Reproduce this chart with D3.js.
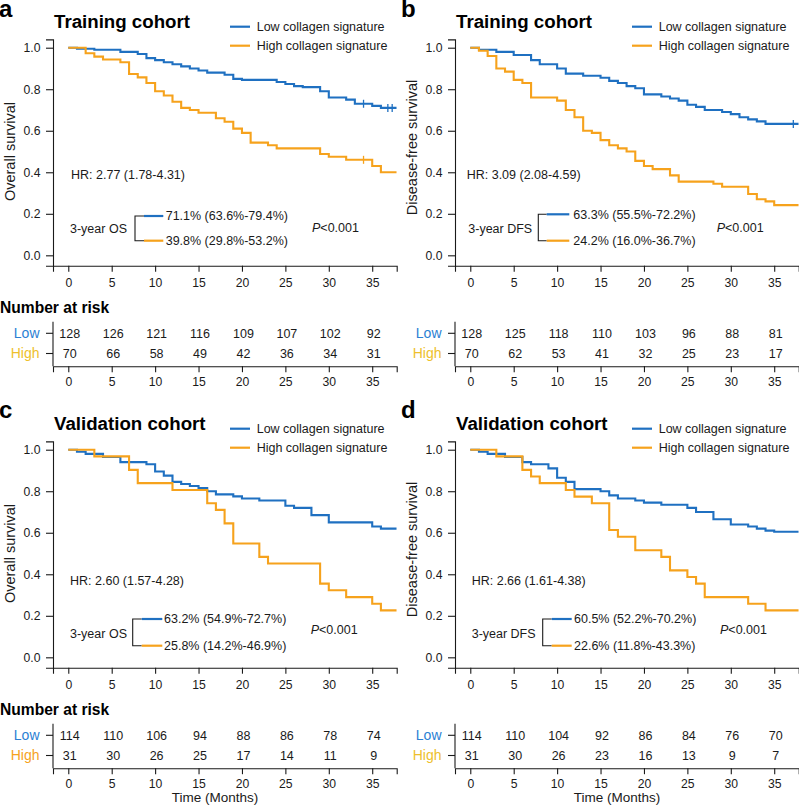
<!DOCTYPE html>
<html><head><meta charset="utf-8">
<script src="https://cdn.jsdelivr.net/npm/d3@7"></script>
<style>body{margin:0;background:#fff}svg{display:block}</style>
</head><body>
<svg id="chart" width="799" height="806"></svg>
<script>
// ---------- DATA ----------
const months = [0,5,10,15,20,25,30,35];
const yTicks = [0,0.2,0.4,0.6,0.8,1.0];
const groups = ["Low","High"];
const legendLabels = ["Low collagen signature","High collagen signature"];

// Panel a: Training cohort, overall survival
const aLowT  = [0,1,3,6,8,9,10,11,12,13,14,15,16,18,19,20,24,25,26,27,29,30,32,33,35,36,37.8];
const aLowS  = [1,0.995,0.99,0.98,0.97,0.95,0.94,0.93,0.92,0.91,0.90,0.89,0.88,0.87,0.85,0.845,0.835,0.825,0.815,0.81,0.79,0.76,0.75,0.73,0.72,0.71,0.71];
const aHighT = [0,2,3,4,6,7,8,9,10,11,12,13,14,15,17,18,19,20,21,23,24,29,30,32,35,36,37.8];
const aHighS = [1,0.973,0.957,0.943,0.93,0.873,0.857,0.83,0.79,0.77,0.74,0.71,0.70,0.687,0.66,0.643,0.61,0.59,0.543,0.53,0.515,0.488,0.475,0.46,0.43,0.40,0.40];
const aLowCens = [34,36.8,37.3];
const aHighCens = [34];
const aRiskLow  = [128,126,121,116,109,107,102,92];
const aRiskHigh = [70,66,58,49,42,36,34,31];

// Panel b: Training cohort, disease-free survival
const bLowT  = [0,1,3,5,7,8,10,11,13,15,16,17,18,19,20,22,23,24,25,26,27,29,30,31,32,33,34,37.8];
const bLowS  = [1,0.99,0.98,0.965,0.94,0.92,0.90,0.875,0.865,0.855,0.84,0.83,0.815,0.805,0.775,0.765,0.755,0.745,0.725,0.715,0.70,0.69,0.68,0.665,0.655,0.645,0.633,0.633];
const bHighT = [0,1,2,3,4,5,6,7,10,11,12,13,14,15,16,17,18,19,20,21,23,24,28,29,32,33,34,35,37.8];
const bHighS = [1,0.985,0.96,0.90,0.885,0.845,0.83,0.76,0.745,0.70,0.665,0.60,0.59,0.555,0.53,0.515,0.50,0.455,0.43,0.415,0.385,0.355,0.345,0.33,0.295,0.27,0.26,0.242,0.242];
const bLowCens = [37.2];
const bHighCens = [];
const bRiskLow  = [128,125,118,110,103,96,88,81];
const bRiskHigh = [70,62,53,41,32,25,23,17];

// Panel c: Validation cohort, overall survival
const cLowT  = [0,1,2,4,6,9,10,11,12,13,14,15,16,17,19,20,22,25,26,28,30,35,36,37.8];
const cLowS  = [1,0.99,0.98,0.965,0.94,0.93,0.895,0.875,0.845,0.835,0.825,0.815,0.80,0.785,0.775,0.765,0.755,0.73,0.72,0.685,0.65,0.63,0.62,0.62];
const cHighT = [0,3,7,8,12,16,17,18,19,22,23,29,30,32,35,36,37.8];
const cHighS = [1,0.968,0.903,0.839,0.806,0.742,0.710,0.645,0.548,0.484,0.452,0.355,0.323,0.290,0.258,0.226,0.226];
const cLowCens = [];
const cHighCens = [];
const cRiskLow  = [114,110,106,94,88,86,78,74];
const cRiskHigh = [31,30,26,25,17,14,11,9];

// Panel d: Validation cohort, disease-free survival
const dLowT  = [0,1,2,4,6,7,9,10,11,12,15,16,17,19,20,22,25,26,28,30,32,33,34,35,37.8];
const dLowS  = [1,0.99,0.98,0.965,0.94,0.93,0.91,0.865,0.845,0.81,0.80,0.78,0.765,0.755,0.745,0.735,0.72,0.70,0.665,0.64,0.63,0.62,0.61,0.605,0.605];
const dHighT = [0,3,6,7,8,11,12,14,16,17,19,22,23,25,26,27,32,34,37.8];
const dHighS = [1,0.968,0.903,0.871,0.839,0.806,0.774,0.742,0.613,0.581,0.516,0.484,0.419,0.387,0.355,0.290,0.258,0.226,0.226];
const dLowCens = [];
const dHighCens = [];
const dRiskLow  = [114,110,104,92,86,84,76,70];
const dRiskHigh = [31,30,26,23,16,13,9,7];

// ---------- STYLE ----------
const FONT = "'Liberation Sans', Arial, Helvetica, sans-serif";
const BLUE = "#1f70c1", ORANGE = "#f6a21c";
const LOW_TXT = "#2b7fd3", HIGH_YEL = "#eebf2c", HIGH_ORG = "#f6a21c";
const INK = "#1a1a1a";

const panels = [
  {letter:"a", ox:0,   oy:0,   title:"Training cohort", ylab:"Overall survival", ylabY:151.5,
   hr:"HR: 2.77 (1.78-4.31)", yr:"3-year OS", lowTxt:"71.1% (63.6%-79.4%)", highTxt:"39.8% (29.8%-53.2%)",
   low:[aLowT,aLowS,aLowCens], high:[aHighT,aHighS,aHighCens], risk:[aRiskLow,aRiskHigh], highLbl:HIGH_YEL, time:false,
   ann:{hr:[71,175], yr:[70,228.5], bx:135, stub:144, end:163.3, y1:216, y2:240.7, tx:165.7, p:[312,227.7]}},
  {letter:"b", ox:402, oy:0,   title:"Training cohort", ylab:"Disease-free survival", ylabY:147.5,
   hr:"HR: 3.09 (2.08-4.59)", yr:"3-year DFS", lowTxt:"63.3% (55.5%-72.2%)", highTxt:"24.2% (16.0%-36.7%)",
   low:[bLowT,bLowS,bLowCens], high:[bHighT,bHighS,bHighCens], risk:[bRiskLow,bRiskHigh], highLbl:HIGH_YEL, time:false,
   ann:{hr:[64.7,175], yr:[66.3,228.5], bx:136.3, stub:144.7, end:167.3, y1:214.3, y2:240.7, tx:171.3, p:[314.7,228]}},
  {letter:"c", ox:0,   oy:402, title:"Validation cohort", ylab:"Overall survival", ylabY:151.5,
   hr:"HR: 2.60 (1.57-4.28)", yr:"3-year OS", lowTxt:"63.2% (54.9%-72.7%)", highTxt:"25.8% (14.2%-46.9%)",
   low:[cLowT,cLowS,cLowCens], high:[cHighT,cHighS,cHighCens], risk:[cRiskLow,cRiskHigh], highLbl:HIGH_ORG, time:true,
   ann:{hr:[70,179], yr:[70,232], bx:132.7, stub:141.7, end:162.3, y1:217, y2:243.7, tx:164, p:[310.7,228]}},
  {letter:"d", ox:402, oy:402, title:"Validation cohort", ylab:"Disease-free survival", ylabY:147.5,
   hr:"HR: 2.66 (1.61-4.38)", yr:"3-year DFS", lowTxt:"60.5% (52.2%-70.2%)", highTxt:"22.6% (11.8%-43.3%)",
   low:[dLowT,dLowS,dLowCens], high:[dHighT,dHighS,dHighCens], risk:[dRiskLow,dRiskHigh], highLbl:HIGH_YEL, time:true,
   ann:{hr:[69.7,179], yr:[69.7,232], bx:140.7, stub:149.7, end:169.7, y1:217, y2:243.7, tx:172, p:[318,228]}}
];

const svg = d3.select("#chart").style("font-family", FONT);
svg.append("rect").attr("width",799).attr("height",806).attr("fill","#fff");

function styleAxis(g){
  g.selectAll("path.domain").attr("stroke", INK).attr("stroke-width",1.1);
  g.selectAll(".tick line").attr("stroke", INK).attr("stroke-width",1.1);
  g.selectAll(".tick text").attr("fill", INK).style("font-size","12.2px").style("font-family",FONT);
}

panels.forEach(p => {
  const {ox, oy} = p;
  const g = svg.append("g");
  const x = d3.scaleLinear().domain([-1.76, 37.82]).range([ox+53, ox+396.7]);
  const y = d3.scaleLinear().domain([-0.05, 1.04]).range([oy+265.7, oy+39.4]);

  // panel letter and title
  g.append("text").attr("x", ox-1).attr("y", oy + (oy ? 15.5 : 17)).text(p.letter)
    .style("font-size","24px").style("font-weight","bold").attr("fill","#000");
  g.append("text").attr("x", ox+54).attr("y", oy+28).text(p.title)
    .style("font-size","18.7px").style("font-weight","bold").attr("fill","#000");

  // legend
  const lg = g.append("g");
  [[BLUE, 26.7],[ORANGE, 45.7]].forEach((d,i) => {
    lg.append("line").attr("x1", ox+230).attr("x2", ox+250).attr("y1", oy+d[1]).attr("y2", oy+d[1])
      .attr("stroke", d[0]).attr("stroke-width", 2.2);
    lg.append("text").attr("x", ox+256.7).attr("y", oy+d[1]).attr("dy","0.35em")
      .text(legendLabels[i]).style("font-size","12.5px").attr("fill", INK);
  });

  // axes
  const ax = g.append("g").attr("transform", `translate(0,${y(-0.05)})`)
    .call(d3.axisBottom(x).tickValues(months).tickSizeOuter(0).tickSize(6).tickPadding(6.5));
  styleAxis(ax);
  const ay = g.append("g").attr("transform", `translate(${x(-1.76)},0)`)
    .call(d3.axisLeft(y).tickValues(yTicks).tickFormat(d3.format(".1f")).tickSizeOuter(0).tickSize(7).tickPadding(5.5));
  styleAxis(ay);

  // y label
  g.append("text").attr("transform", `translate(${ox+15},${oy+p.ylabY}) rotate(-90)`)
    .attr("text-anchor","middle").text(p.ylab).style("font-size","14.5px").attr("fill", INK);

  // curves
  const line = d3.line().x(d=>x(d[0])).y(d=>y(d[1])).curve(d3.curveStepAfter);
  [[p.low, BLUE],[p.high, ORANGE]].forEach(([ser, col]) => {
    const pts = ser[0].map((t,i) => [t, ser[1][i]]);
    g.append("path").datum(pts).attr("d", line).attr("fill","none")
      .attr("stroke", col).attr("stroke-width", 2.1).attr("stroke-linejoin","miter");
    const stepVal = t => { let v = 1; ser[0].forEach((tt,i)=>{ if (tt <= t) v = ser[1][i]; }); return v; };
    ser[2].forEach(t => {
      g.append("line").attr("x1", x(t)).attr("x2", x(t))
        .attr("y1", y(stepVal(t)) - 4).attr("y2", y(stepVal(t)) + 4)
        .attr("stroke", col).attr("stroke-width", 1.3);
    });
  });

  // annotations
  const a = p.ann;
  g.append("text").attr("x", ox+a.hr[0]).attr("y", oy+a.hr[1]).attr("dy","0.35em")
    .text(p.hr).style("font-size","12.5px").attr("fill", INK);
  g.append("text").attr("x", ox+a.yr[0]).attr("y", oy+a.yr[1]).attr("dy","0.35em")
    .text(p.yr).style("font-size","12.5px").attr("fill", INK);
  g.append("path").attr("d", `M${ox+a.stub},${oy+a.y1}H${ox+a.bx}V${oy+a.y2}H${ox+a.stub}`)
    .attr("fill","none").attr("stroke", INK).attr("stroke-width",1.1);
  [[BLUE, a.y1, p.lowTxt],[ORANGE, a.y2, p.highTxt]].forEach(([col, yy, txt]) => {
    g.append("line").attr("x1", ox+a.stub).attr("x2", ox+a.end).attr("y1", oy+yy).attr("y2", oy+yy)
      .attr("stroke", col).attr("stroke-width", 2.2);
    g.append("text").attr("x", ox+a.tx).attr("y", oy+yy).attr("dy","0.35em")
      .text(txt).style("font-size","12.5px").attr("fill", INK);
  });
  const pt = g.append("text").attr("x", ox+a.p[0]).attr("y", oy+a.p[1]).attr("dy","0.35em")
    .style("font-size","12.5px").attr("fill", INK);
  pt.append("tspan").style("font-style","italic").text("P");
  pt.append("tspan").text("<0.001");

  // risk table
  if (p.letter === "a" || p.letter === "c") {
    g.append("text").attr("x", ox).attr("y", oy+313).text("Number at risk")
      .style("font-size","15.6px").style("font-weight","bold").attr("fill","#000");
  }
  const ry = d3.scalePoint().domain(groups).range([oy+333.3, oy+353.5]);
  const tx = g.append("g").attr("transform", `translate(0,${oy+366.2})`)
    .call(d3.axisBottom(x).tickValues(months).tickSizeOuter(0).tickSize(6).tickPadding(5.5));
  styleAxis(tx);
  g.append("line").attr("x1", x(-1.76)).attr("x2", x(-1.76)).attr("y1", oy+321.7).attr("y2", oy+366.2)
    .attr("stroke", INK).attr("stroke-width",1.1);
  groups.forEach((grp, gi) => {
    g.append("line").attr("x1", x(-1.76)-7).attr("x2", x(-1.76)).attr("y1", ry(grp)).attr("y2", ry(grp))
      .attr("stroke", INK).attr("stroke-width",1.1);
    g.append("text").attr("x", x(-1.76)-13.5).attr("y", ry(grp)).attr("dy","0.35em")
      .attr("text-anchor","end").text(grp).style("font-size","14px")
      .attr("fill", gi === 0 ? LOW_TXT : p.highLbl);
    p.risk[gi].forEach((n, mi) => {
      g.append("text").attr("x", x(months[mi]) + 1.5).attr("y", ry(grp)).attr("dy","0.35em")
        .attr("text-anchor","middle").text(n).style("font-size","12.5px").attr("fill", INK);
    });
  });
  if (p.time) {
    g.append("text").attr("x", ox+215).attr("y", oy+395.5).attr("dy","0.35em")
      .attr("text-anchor","middle").text("Time (Months)").style("font-size","13.5px").attr("fill", INK);
  }
});
</script>
</body></html>
